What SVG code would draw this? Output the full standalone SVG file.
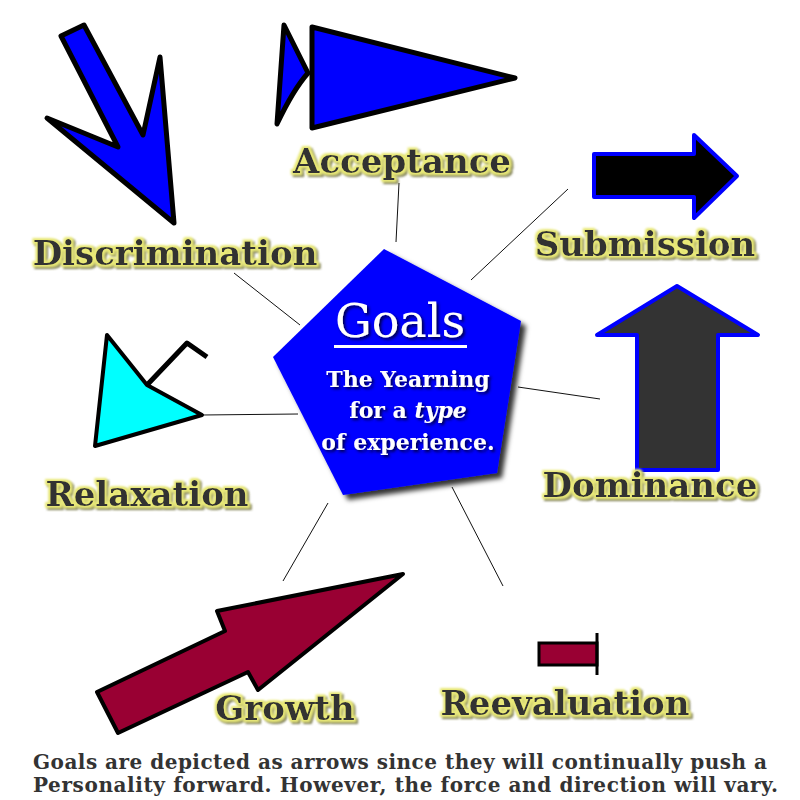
<svg xmlns="http://www.w3.org/2000/svg" width="800" height="800" viewBox="0 0 800 800">
<style>
.lbl{font-family:"DejaVu Serif","Liberation Serif",serif;font-weight:bold;font-size:34px;fill:#333333;text-anchor:middle;filter:url(#glow)}
.conn{stroke:#111;stroke-width:1;fill:none}
.blk{stroke:#000;stroke-width:5;stroke-linejoin:round}
.blu{stroke:#0000ff;stroke-width:4;stroke-linejoin:round}
.mid{font-family:"DejaVu Serif","Liberation Serif",serif;fill:#fff;text-anchor:middle;filter:url(#tsh)}
.foot{font-family:"DejaVu Serif","Liberation Serif",serif;font-weight:bold;font-size:20px;fill:#333333}
</style>
<defs>
<filter id="glow" x="-10%" y="-30%" width="120%" height="160%">
<feMorphology in="SourceAlpha" operator="dilate" radius="1.6" result="d"/>
<feGaussianBlur in="d" stdDeviation="0.8" result="db"/>
<feFlood flood-color="#eaea78"/>
<feComposite in2="db" operator="in" result="g"/>
<feOffset in="db" dx="2" dy="2" result="so"/>
<feFlood flood-color="#5a5a28" flood-opacity="0.8"/>
<feComposite in2="so" operator="in" result="s"/>
<feMerge><feMergeNode in="s"/><feMergeNode in="g"/><feMergeNode in="SourceGraphic"/></feMerge>
</filter>
<filter id="psh" x="-10%" y="-10%" width="130%" height="130%">
<feGaussianBlur in="SourceAlpha" stdDeviation="2.5"/>
<feOffset dx="5" dy="5" result="b"/>
<feFlood flood-color="#000" flood-opacity="0.8"/>
<feComposite in2="b" operator="in"/>
<feMerge><feMergeNode/><feMergeNode in="SourceGraphic"/></feMerge>
</filter>
<filter id="tsh" x="-10%" y="-20%" width="130%" height="150%">
<feGaussianBlur in="SourceAlpha" stdDeviation="1.5"/>
<feOffset dx="2" dy="2" result="b"/>
<feFlood flood-color="#000033" flood-opacity="0.9"/>
<feComposite in2="b" operator="in"/>
<feMerge><feMergeNode/><feMergeNode in="SourceGraphic"/></feMerge>
</filter>
</defs>
<rect width="800" height="800" fill="#fff"/>

<g id="connectors">
<line class="conn" x1="399" y1="183" x2="396" y2="242"/>
<line class="conn" x1="568" y1="189" x2="471" y2="280"/>
<line class="conn" x1="234" y1="273" x2="300" y2="325"/>
<line class="conn" x1="202" y1="415" x2="298" y2="414"/>
<line class="conn" x1="518" y1="387" x2="600" y2="399"/>
<line class="conn" x1="328" y1="503" x2="283" y2="581"/>
<line class="conn" x1="452" y1="487" x2="503" y2="586"/>
</g>

<g id="goals">
<polygon points="384,249 521,321 497,473 343,495 273,357" fill="#0000ff" filter="url(#psh)"/>
<g class="mid">
<text x="400" y="337" font-size="46">Goals</text>
<text x="408" y="387" font-size="22" font-weight="bold">The Yearning</text>
<text x="408" y="418" font-size="22" font-weight="bold">for a <tspan font-style="italic">type</tspan></text>
<text x="408" y="450" font-size="22" font-weight="bold">of experience.</text>
</g>
<rect x="334" y="345" width="133" height="3" fill="#fff"/>
</g>

<g id="discrimination">
<polygon class="blk" fill="#0000ff" points="61,36 84,25 143,135 160,57 174,223 47,118 118,147"/>
<text class="lbl" x="175" y="265">Discrimination</text>
</g>

<g id="acceptance">
<path class="blk" fill="#0000ff" d="M284,25 L308,73 Q293,90 277,124 Z"/>
<polygon class="blk" fill="#0000ff" points="312,27 515,78 312,128"/>
<text class="lbl" x="402" y="173">Acceptance</text>
</g>

<g id="submission">
<polygon class="blu" fill="#000" points="594,154 694,154 694,135 737,176 694,218 694,197 594,197"/>
<text class="lbl" x="645" y="256">Submission</text>
</g>

<g id="relaxation">
<polygon stroke="#000" stroke-width="4" stroke-linejoin="round" fill="#00ffff" points="107,335 147,385 202,415 95,446"/>
<polyline points="147,385 187,343 207,357" fill="none" stroke="#000" stroke-width="5" stroke-linejoin="round"/>
<text class="lbl" x="147" y="506">Relaxation</text>
</g>

<g id="dominance">
<polygon class="blu" fill="#333333" points="677,286 758,335 718,335 718,470 637,470 637,335 597,335"/>
<text class="lbl" x="650" y="497">Dominance</text>
</g>

<g id="growth">
<polygon stroke="#000" stroke-width="4" stroke-linejoin="round" fill="#990033" points="97,692 225,631 217,611 403,574 258,690 248,672 118,733"/>
<text class="lbl" x="285" y="720">Growth</text>
</g>

<g id="reevaluation">
<rect x="539" y="643" width="58" height="22" fill="#990033" stroke="#000" stroke-width="3"/>
<line x1="597" y1="633" x2="597" y2="675" stroke="#000" stroke-width="3"/>
<text class="lbl" x="565" y="715">Reevaluation</text>
</g>

<g id="footer">
<text class="foot" x="33" y="769" textLength="734" lengthAdjust="spacing">Goals are depicted as arrows since they will continually push a</text>
<text class="foot" x="33" y="792" textLength="745" lengthAdjust="spacing">Personality forward. However, the force and direction will vary.</text>
</g>
</svg>
